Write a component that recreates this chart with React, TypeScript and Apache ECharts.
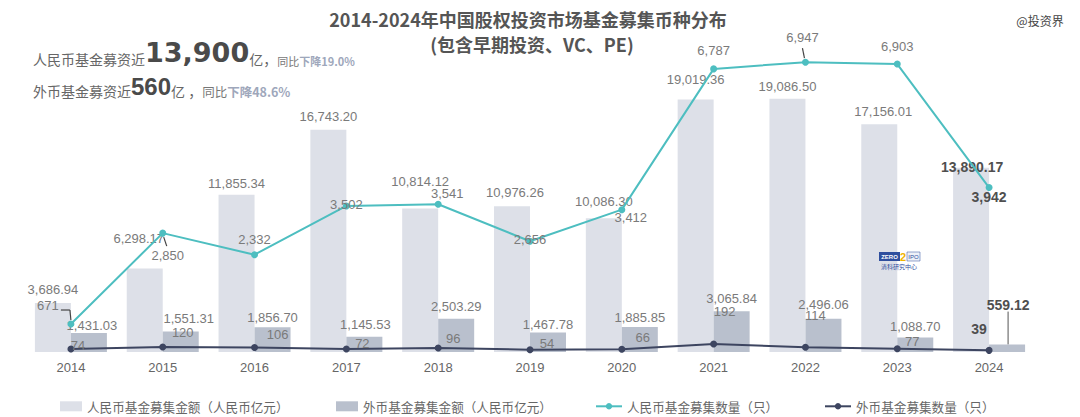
import React, { useEffect, useRef } from "react";
import * as echarts from "echarts";

const years = ["2014", "2015", "2016", "2017", "2018", "2019", "2020", "2021", "2022", "2023", "2024"];
const seriesNames = [
  "人民币基金募集金额（人民币亿元）",
  "外币基金募集金额（人民币亿元）",
  "人民币基金募集数量（只）",
  "外币基金募集数量（只）",
];
const rmbAmount = [3686.94, 6298.17, 11855.34, 16743.2, 10814.12, 10976.26, 10086.3, 19019.36, 19086.5, 17156.01, 13890.17];
const fxAmount = [1431.03, 1551.31, 1856.7, 1145.53, 2503.29, 1467.78, 1885.85, 3065.84, 2496.06, 1088.7, 559.12];
const rmbCount = [671, 2850, 2332, 3502, 3541, 2656, 3412, 6787, 6947, 6903, 3942];
const fxCount = [74, 120, 106, 72, 96, 54, 66, 192, 114, 77, 39];

// label nudges (dx, dy) per category
const rmbAmountOffsets = [[0, -2], [-6, -18], [0, 0], [0, -2], [0, -15], [3, -2], [0, -5], [0, -9], [0, -1], [4, -1], [1, 11]];
const fxAmountOffsets = [[3, 4], [8, -1], [0, 2], [1, -1], [0, -1], [0, 3], [0, 2], [0, -1], [0, -3], [0, 0], [1, -28]];
const rmbCountOffsets = [[-23, -4], [5, 37], [0, 0], [0, 14], [9, 4], [0, 13], [9, 23], [0, -3], [-3, -10], [0, -3], [0, 25]];
const fxCountOffsets = [[7, 12], [20, 1], [23, 2], [16, 10], [15, 6], [17, 9], [21, 3], [11, -17], [10, -17], [15, 8], [-10, -6]];
// leader segments of the RMB count labels, relative to the data point: [x1, y1, x2, y2]
const rmbCountLeaderIdx = [0, 0, 1, 8];
const rmbCountLeaderSegs = [
  [-10, -14, -1, -14],
  [-1, -14, 0, -4],
  [1, 4, 4, 13],
  [-3, -14, -1, -4],
];
const fxAmountLeaders = [10];
const highlightIndex = 10;

const FONT = "'Liberation Sans', 'Noto Sans CJK SC', sans-serif";
const CJK = "'Noto Sans CJK SC', 'Liberation Sans', sans-serif";

const fmt2 = (v: number) => v.toLocaleString("en-US", { minimumFractionDigits: 2, maximumFractionDigits: 2 });
const fmt0 = (v: number) => v.toLocaleString("en-US");

const boldLabel = { fontWeight: "bold", color: "#4f4f4f", fontSize: 14 };
const leaderOn = { show: true, length2: 0, lineStyle: { color: "#555", width: 1 } };
const leaderOff = { show: false };

function build(values: number[], leaders: number[]) {
  return values.map((v, i) => {
    const item: any = { value: v };
    if (i === highlightIndex) item.label = boldLabel;
    item.labelLine = leaders.indexOf(i) >= 0 ? leaderOn : leaderOff;
    return item;
  });
}

const layoutFrom = (offs: number[][]) => (p: any) => ({ dx: offs[p.dataIndex][0], dy: offs[p.dataIndex][1] });

export default function App() {
  const ref = useRef<HTMLDivElement>(null);
  useEffect(() => {
    if (!ref.current) return;
    const chart = echarts.init(ref.current, null, { renderer: "svg" });
    const labelBase = { show: true, position: "top", color: "#7a7a7a", fontSize: 13, fontFamily: FONT };
    const baseGraphic: any[] = [
      { type: "text", z: 100, x: 528, y: 19, style: { text: "2014-2024年中国股权投资市场基金募集币种分布", fill: "#555", font: `bold 18px ${CJK}`, align: "center", verticalAlign: "middle" } },
      { type: "text", z: 100, x: 532, y: 44, style: { text: "(包含早期投资、VC、PE)", fill: "#555", font: `bold 18px ${CJK}`, align: "center", verticalAlign: "middle" } },
      { type: "text", z: 100, x: 1040, y: 20, style: { text: "@投资界", fill: "#444", font: `12px ${CJK}`, align: "center", verticalAlign: "middle" } },
      {
        type: "text", z: 100, x: 33, y: 51,
        style: {
          text: "{a|人民币基金募资近}{b|13,900}{a|亿，}{s|同比}{c|下降19.0%}",
          verticalAlign: "middle",
          rich: {
            a: { fontSize: 14, fill: "#666", fontFamily: CJK, verticalAlign: "bottom", lineHeight: 30 },
            b: { fontSize: 27, fontWeight: "bold", fill: "#4a4a4a", fontFamily: "'DejaVu Sans', sans-serif", verticalAlign: "bottom", lineHeight: 30 },
            s: { fontSize: 11, fill: "#777", fontFamily: CJK, verticalAlign: "bottom", lineHeight: 30 },
            c: { fontSize: 11, fontWeight: "bold", fill: "#9ea7bb", fontFamily: CJK, verticalAlign: "bottom", lineHeight: 30 },
          },
        },
      },
      {
        type: "text", z: 100, x: 33, y: 85,
        style: {
          text: "{a|外币基金募资近}{b|560}{a|亿 ，}{s|同比}{c|下降48.6%}",
          verticalAlign: "middle",
          rich: {
            a: { fontSize: 14, fill: "#666", fontFamily: CJK, verticalAlign: "bottom", lineHeight: 26 },
            b: { fontSize: 24, fontWeight: "bold", fill: "#4a4a4a", fontFamily: FONT, verticalAlign: "bottom", lineHeight: 26 },
            s: { fontSize: 12.5, fill: "#777", fontFamily: CJK, verticalAlign: "bottom", lineHeight: 26 },
            c: { fontSize: 12.5, fontWeight: "bold", fill: "#9ea7bb", fontFamily: CJK, verticalAlign: "bottom", lineHeight: 26 },
          },
        },
      },
      {
        type: "group", z: 100, x: 879, y: 252,
        children: [
          { type: "rect", z: 100, shape: { x: 0, y: 0, width: 21, height: 9 }, style: { fill: "#2f4f9e" } },
          { type: "text", z: 101, x: 10.5, y: 4.5, style: { text: "ZERO", fill: "#fff", font: `bold 6px ${FONT}`, align: "center", verticalAlign: "middle" } },
          { type: "text", z: 101, x: 24, y: 4.5, style: { text: "2", fill: "#f0b400", font: `bold 11px ${FONT}`, align: "center", verticalAlign: "middle" } },
          { type: "rect", z: 100, shape: { x: 28, y: 0, width: 13, height: 9 }, style: { fill: "#eef1f8", stroke: "#2f4f9e", lineWidth: 0.5 } },
          { type: "text", z: 101, x: 34.5, y: 4.5, style: { text: "IPO", fill: "#2f4f9e", font: `6px ${FONT}`, align: "center", verticalAlign: "middle" } },
          { type: "text", z: 101, x: 20, y: 14, style: { text: "清科研究中心", fill: "#2f4f9e", font: `6px ${CJK}`, align: "center", verticalAlign: "middle" } },
        ],
      },
    ];
    chart.setOption({
      animation: false,
      backgroundColor: "#ffffff",
      textStyle: { fontFamily: FONT },
      grid: { left: 25, right: 45, top: 60, bottom: 65, containLabel: false },
      xAxis: {
        type: "category",
        data: years,
        axisLine: { show: false },
        axisTick: { show: false },
        axisLabel: { color: "#666", fontSize: 13, margin: 9, fontFamily: FONT },
      },
      yAxis: [
        { type: "value", min: 0, max: 22000, show: false, splitLine: { show: false } },
        { type: "value", min: 0, max: 7000, show: false, splitLine: { show: false } },
      ],
      legend: [
        { data: [seriesNames[0]], left: 55, top: 395, icon: "rect", itemWidth: 22, itemHeight: 10, textStyle: { color: "#666", fontSize: 12.6, fontFamily: CJK } },
        { data: [seriesNames[1]], left: 331, top: 395, icon: "rect", itemWidth: 22, itemHeight: 10, textStyle: { color: "#666", fontSize: 12.6, fontFamily: CJK } },
        { data: [seriesNames[2]], left: 590, top: 395, itemWidth: 26, itemHeight: 8, textStyle: { color: "#666", fontSize: 12.6, fontFamily: CJK } },
        { data: [seriesNames[3]], left: 819, top: 395, itemWidth: 26, itemHeight: 8, textStyle: { color: "#666", fontSize: 12.6, fontFamily: CJK } },
      ],
      graphic: baseGraphic,
      series: [
        {
          name: seriesNames[0], type: "bar", data: build(rmbAmount, []), barWidth: 36, barGap: "0%",
          itemStyle: { color: "#dde0e8" },
          label: { ...labelBase, formatter: (p: any) => fmt2(p.value) },
          labelLine: leaderOff,
          labelLayout: layoutFrom(rmbAmountOffsets),
        },
        {
          name: seriesNames[1], type: "bar", data: build(fxAmount, fxAmountLeaders), barWidth: 36, barGap: "0%",
          itemStyle: { color: "#b9c0cd" },
          label: { ...labelBase, formatter: (p: any) => fmt2(p.value) },
          labelLine: leaderOff,
          labelLayout: layoutFrom(fxAmountOffsets),
        },
        {
          name: seriesNames[2], type: "line", yAxisIndex: 1, data: build(rmbCount, []),
          symbol: "circle", symbolSize: 7, color: "#4dbec0", lineStyle: { width: 2, color: "#4dbec0" },
          label: { ...labelBase, formatter: (p: any) => fmt0(p.value) },
          labelLayout: layoutFrom(rmbCountOffsets),
          z: 5,
        },
        {
          name: seriesNames[3], type: "line", yAxisIndex: 1, data: build(fxCount, []),
          symbol: "circle", symbolSize: 7, color: "#3d4560", lineStyle: { width: 2, color: "#3d4560" },
          label: { ...labelBase, formatter: (p: any) => fmt0(p.value) },
          labelLayout: layoutFrom(fxCountOffsets),
          z: 6,
        },
      ],
    });
    // leader lines anchored on points converted through the chart's own axes
    const leaders = rmbCountLeaderIdx.map((idx, k) => {
      const pt = chart.convertToPixel({ xAxisIndex: 0, yAxisIndex: 1 }, [idx, rmbCount[idx]]) as number[];
      const s = rmbCountLeaderSegs[k];
      return {
        type: "line",
        z: 120,
        shape: { x1: pt[0] + s[0], y1: pt[1] + s[1], x2: pt[0] + s[2], y2: pt[1] + s[3] },
        style: { stroke: "#444", lineWidth: 1.2 },
      };
    });
    chart.setOption({ graphic: [...baseGraphic, ...leaders] });
    return () => chart.dispose();
  }, []);
  return <div ref={ref} style={{ position: "absolute", left: 0, top: 0, width: 1080, height: 417 }} />;
}
